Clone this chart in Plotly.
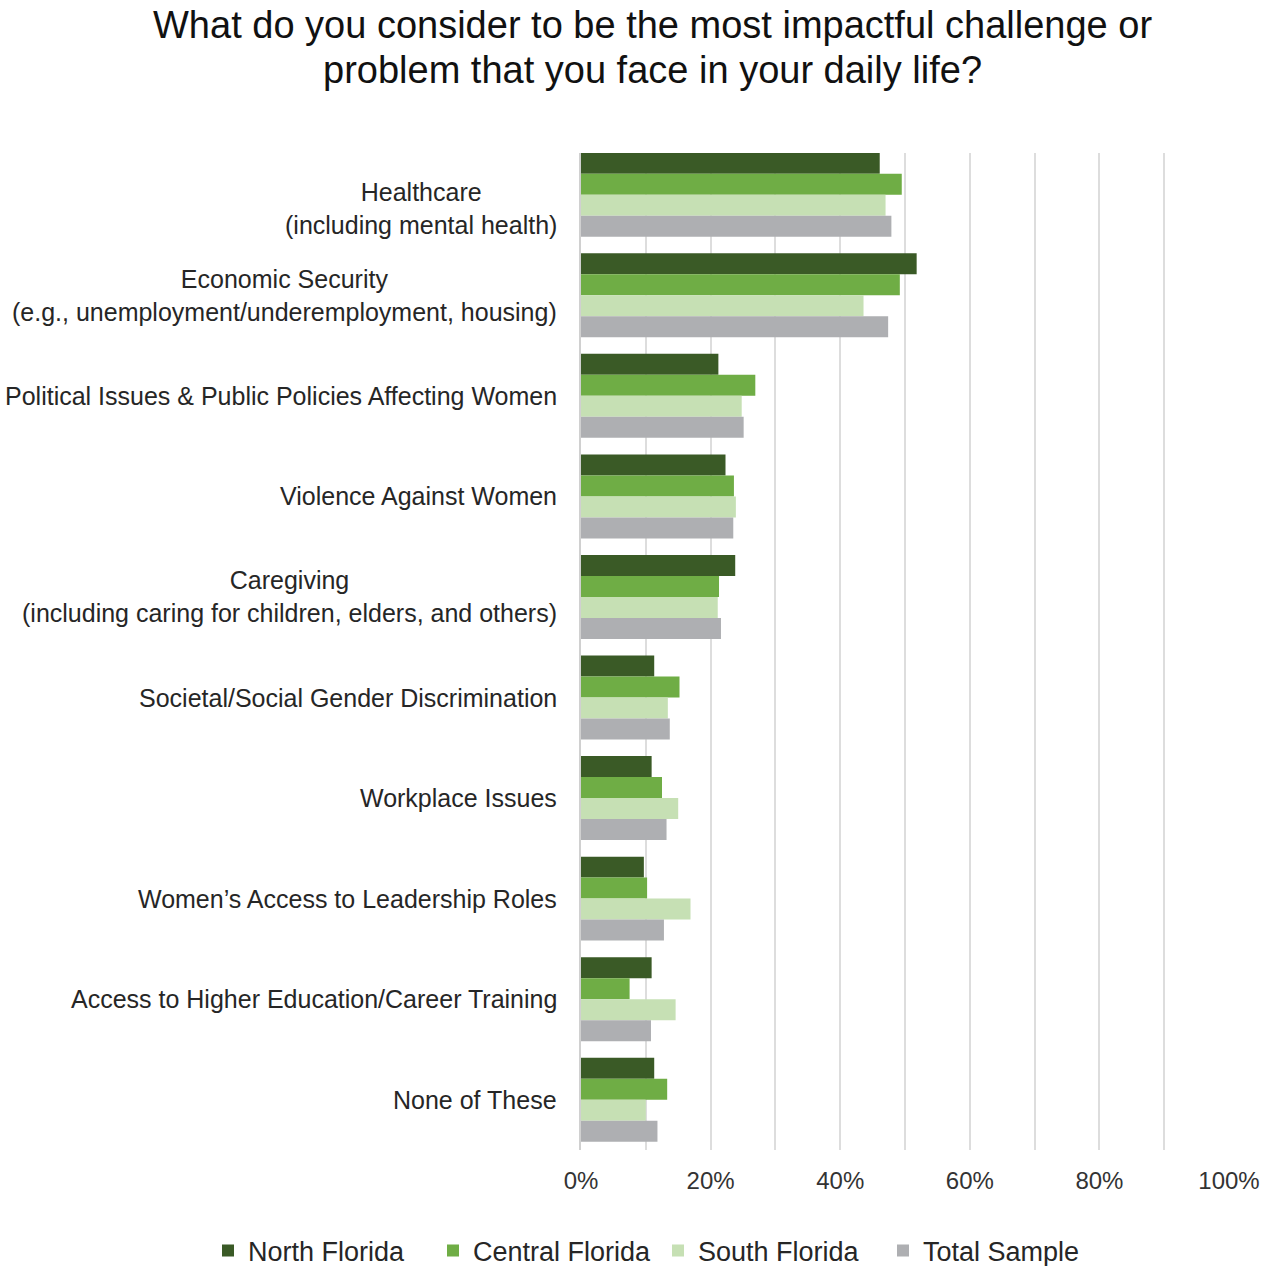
import plotly.graph_objects as go

categories = [
    "Healthcare<br>(including mental health)",
    "Economic Security<br>(e.g., unemployment/underemployment, housing)",
    "Political Issues & Public Policies Affecting Women",
    "Violence Against Women",
    "Caregiving<br>(including caring for children, elders, and others)",
    "Societal/Social Gender Discrimination",
    "Workplace Issues",
    "Women\u2019s Access to Leadership Roles",
    "Access to Higher Education/Career Training",
    "None of These",
]

north_florida = [46.1, 51.8, 21.2, 22.3, 23.8, 11.3, 10.9, 9.7, 10.9, 11.3]
central_florida = [49.5, 49.2, 26.9, 23.6, 21.3, 15.2, 12.5, 10.2, 7.5, 13.3]
south_florida = [47.0, 43.6, 24.8, 23.9, 21.1, 13.4, 15.0, 16.9, 14.6, 10.0]
total_sample = [47.9, 47.4, 25.1, 23.5, 21.6, 13.7, 13.2, 12.8, 10.8, 11.8]

series_names = ["North Florida", "Central Florida", "South Florida", "Total Sample"]
series_values = [north_florida, central_florida, south_florida, total_sample]
colors = ["#3A5A26", "#6FAD45", "#C6E0B4", "#AEAFB2"]

tick_vals = [0, 20, 40, 60, 80, 100]
tick_text = ["0%", "20%", "40%", "60%", "80%", "100%"]

title_lines = ["What do you consider to be the most impactful challenge or",
               "problem that you face in your daily life?"]

FONT = "Liberation Sans, Arial, sans-serif"

fig = go.Figure()
for name, vals, col in zip(series_names, series_values, colors):
    fig.add_trace(go.Bar(
        y=list(range(len(categories))), x=vals, name=name, orientation="h",
        marker=dict(color=col, line=dict(width=0)),
    ))

annotations = []
for i, cat in enumerate(categories):
    annotations.append(dict(
        x=0, xref="paper", y=i, yref="y", text=cat, showarrow=False,
        xanchor="right", yanchor="middle", align="center", xshift=-22,
        yshift=-14 if i == 0 else 0,
        font=dict(family=FONT, size=25, color="#262626"),
    ))

# title lines as annotations (pixel offsets above plot top at y=153)
for line, shift in zip(title_lines, [153 - 25, 153 - 70]):
    annotations.append(dict(
        x=(652 - 581) / 648, xref="paper", y=1, yref="paper", text=line,
        showarrow=False, xanchor="center", yanchor="middle", align="center",
        yshift=shift, font=dict(family=FONT, size=38, color="#111111"),
    ))

fig.update_layout(
    width=1271, height=1266,
    paper_bgcolor="white", plot_bgcolor="white",
    margin=dict(l=581, r=42, t=153, b=116, autoexpand=False),
    barmode="group", bargap=0.165, bargroupgap=0,
    xaxis=dict(
        range=[0, 100], tickvals=tick_vals, ticktext=tick_text,
        showgrid=True, gridcolor="#DDDDDD", gridwidth=2,
        minor=dict(dtick=10, showgrid=True, gridcolor="#DDDDDD", gridwidth=2),
        zeroline=False, showline=False, ticks="",
        tickfont=dict(family=FONT, size=24, color="#333333"),
        ticklabelstandoff=14,
    ),
    yaxis=dict(
        range=[9.5, -0.415], showticklabels=False, showgrid=False,
        zeroline=False, showline=True, linecolor="#D0D0D0", linewidth=2,
        ticks="",
    ),
    legend=dict(
        orientation="h", x=(208 - 581) / 648, xref="paper", xanchor="left",
        y=-(1251 - 1150) / 997, yref="paper", yanchor="middle",
        font=dict(family=FONT, size=27, color="#262626"),
        traceorder="normal", itemwidth=30, entrywidth=180,
    ),
    annotations=annotations,
    showlegend=True,
)

fig.write_html(
    "out.html",
    config={"displayModeBar": False},
    post_script="document.body.style.margin='0';document.body.style.overflow='hidden';",
)
